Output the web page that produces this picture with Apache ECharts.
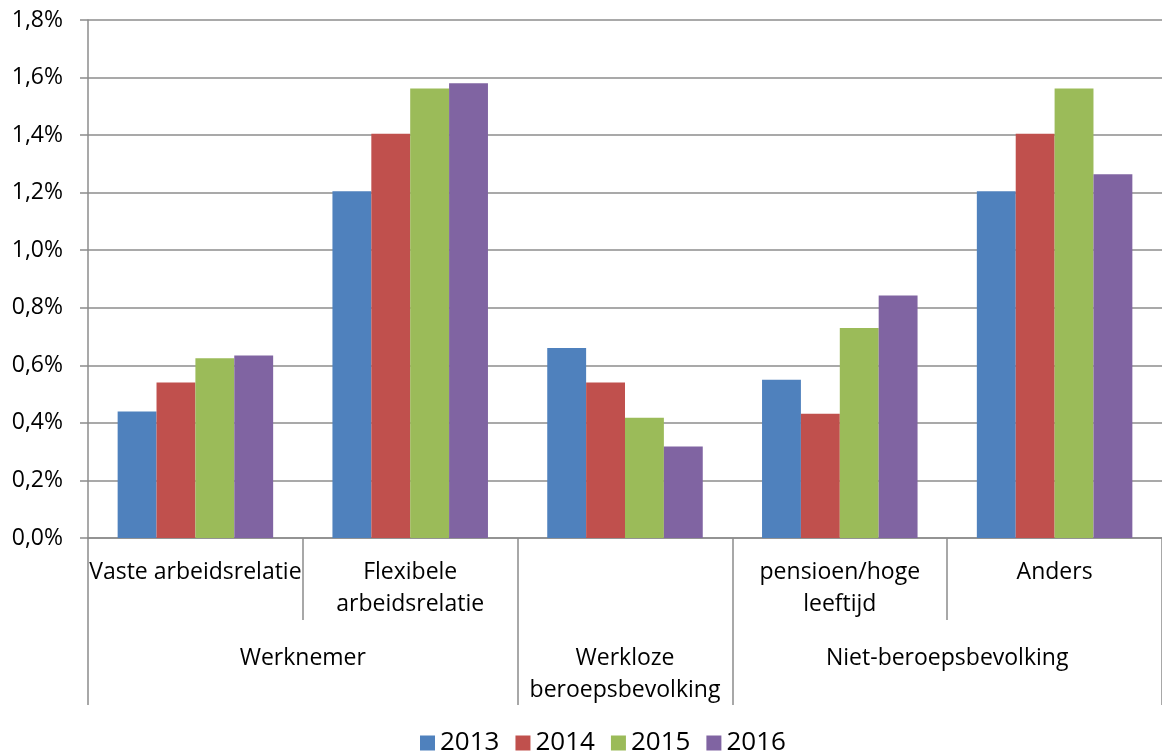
<!DOCTYPE html>
<html>
<head>
<meta charset="utf-8">
<script src="https://cdn.jsdelivr.net/npm/echarts@6/dist/echarts.min.js"></script>
<style>
  html, body { margin: 0; padding: 0; background: #fff; }
  #main { width: 1162px; height: 751px; }
</style>
</head>
<body>
<div id="main"></div>
<script>
// categorieën en groepen
var categories = ['Vaste arbeidsrelatie', 'Flexibele\narbeidsrelatie', '', 'pensioen/hoge\nleeftijd', 'Anders'];
var groups = ['Werknemer', 'Werkloze\nberoepsbevolking', 'Niet-beroepsbevolking'];
var groupCenters = [1, 2.5, 4];
var groupEdges = [0, 2, 3, 5];
var years = ['2013', '2014', '2015', '2016'];

// waarden in %
var v2013 = [0.44, 1.205, 0.66, 0.55, 1.205];
var v2014 = [0.54, 1.405, 0.54, 0.432, 1.405];
var v2015 = [0.625, 1.562, 0.418, 0.73, 1.562];
var v2016 = [0.634, 1.58, 0.318, 0.843, 1.264];

var colors = ['#4F81BD', '#C0504D', '#9BBB59', '#8064A2'];
var font = '"Open Sans", sans-serif';
var gray = '#8c8c8c';

var myChart = echarts.init(document.getElementById('main'));

var option = {
  animation: false,
  color: colors,
  grid: { left: 88, right: -10, top: 20, bottom: 213, containLabel: false },
  legend: {
    bottom: -10,
    left: 415,
    itemWidth: 15,
    itemHeight: 15,
    itemGap: 16,
    icon: 'rect',
    textStyle: { fontFamily: font, fontSize: 26, color: '#000' },
    data: years
  },
  xAxis: [
    {
      type: 'category',
      data: categories,
      axisLine: { lineStyle: { color: gray, width: 1.5 } },
      axisTick: { show: true, interval: 0, length: 82, lineStyle: { color: gray, width: 1.5 } },
      axisLabel: {
        interval: 0,
        margin: 18,
        fontFamily: font, fontSize: 23, color: '#000', lineHeight: 32,
        verticalAlign: 'top'
      }
    },
    {
      type: 'value',
      position: 'bottom',
      min: 0, max: 5,
      offset: 82,
      axisLine: { show: false },
      splitLine: { show: false },
      axisTick: {
        show: true, customValues: groupEdges, length: 85,
        lineStyle: { color: gray, width: 1.5 }
      },
      axisLabel: {
        customValues: groupCenters,
        margin: 22,
        fontFamily: font, fontSize: 23, color: '#000', lineHeight: 32,
        verticalAlign: 'top',
        formatter: function (v) {
          var i = groupCenters.indexOf(v);
          return i >= 0 ? groups[i] : '';
        }
      }
    }
  ],
  yAxis: {
    type: 'value',
    min: 0, max: 1.8, interval: 0.2,
    axisLine: { show: true, lineStyle: { color: gray, width: 1.5 } },
    axisTick: { show: true, length: 8, lineStyle: { color: gray, width: 1.5 } },
    splitLine: { lineStyle: { color: gray, width: 1.5 } },
    axisLabel: {
      margin: 25,
      fontFamily: font, fontSize: 23, color: '#000',
      formatter: function (v) { return v.toFixed(1).replace('.', ',') + '%'; }
    }
  },
  series: [
    { name: years[0], type: 'bar', data: v2013, barGap: '0%', barCategoryGap: '27.6%' },
    { name: years[1], type: 'bar', data: v2014, barGap: '0%', barCategoryGap: '27.6%' },
    { name: years[2], type: 'bar', data: v2015, barGap: '0%', barCategoryGap: '27.6%' },
    { name: years[3], type: 'bar', data: v2016, barGap: '0%', barCategoryGap: '27.6%' }
  ]
};

myChart.setOption(option);
</script>
</body>
</html>
